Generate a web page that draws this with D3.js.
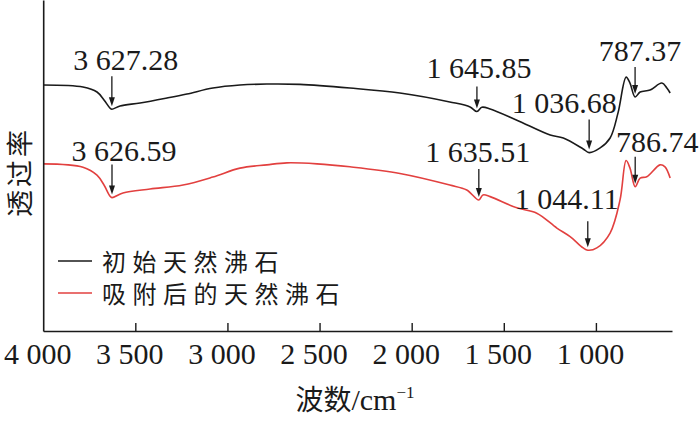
<!DOCTYPE html>
<meta charset="utf-8">
<style>
  body, html { margin: 0; padding: 0; background: #fff; }
  svg { display: block; }
  .num { font-family: "Liberation Serif", "Times New Roman", serif; }
  .cjk { font-family: "Noto Sans CJK SC", sans-serif; }
</style>
<body>
<svg width="700" height="422"></svg>
<script src="https://d3js.org/d3.v7.min.js"></script>
<script>
// wavenumber (cm-1) and transmittance (arbitrary units)
var wnRaw = [4000, 3784, 3708, 3670, 3637, 3627.28, 3583, 3474, 3328, 3220, 3079, 2932, 2786, 2607, 2335,
  2064, 1793, 1683, 1645.85, 1619, 1574, 1429, 1248, 1177, 1069, 1036.68, 977, 923, 880, 836, 815, 787.37,
  760, 706, 642, 615, 597];
var tRaw = [74.3, 73.7, 72.2, 69.8, 67.3, 67.0, 68.0, 68.9, 70.4, 71.6, 73.4, 74.3, 74.6, 74.5, 73.4,
  71.9, 69.2, 67.7, 66.3, 67.6, 67.1, 63.7, 59.2, 58.3, 55.0, 53.9, 55.3, 58.3, 65.9, 76.7, 74.9, 70.7,
  72.2, 72.8, 74.9, 73.4, 71.9];

var wnAds = [4000, 3784, 3708, 3670, 3637, 3626.59, 3567, 3420, 3241, 3079, 2932, 2786, 2677, 2514, 2335,
  2064, 1793, 1701, 1635.51, 1613, 1574, 1429, 1321, 1212, 1140, 1069, 1044.11, 995, 923, 869, 836, 815,
  786.74, 760, 724, 652, 625, 597];
var tAds = [50.5, 49.5, 47.1, 44.1, 40.7, 40.3, 41.7, 42.9, 44.1, 46.5, 49.2, 50.2, 50.8, 50.5, 49.6,
  47.6, 44.1, 42.6, 39.6, 41.1, 40.6, 37.2, 35.6, 31.1, 28.5, 25.1, 24.4, 25.1, 29.6, 39.6, 51.5, 49.2,
  43.6, 46.2, 46.6, 50.2, 49.6, 46.2];

var seriesNames = ["初始天然沸石", "吸附后的天然沸石"];
var seriesColors = ["#1a1a1a", "#e2403f"];

var peaksRaw = [3627.28, 1645.85, 1036.68, 787.37];
var peaksAds = [3626.59, 1635.51, 1044.11, 786.74];

var xTicks = [4000, 3500, 3000, 2500, 2000, 1500, 1000];

// annotation layout: arrow length, label x offset, gap between label and arrow
var rawLayout = [[30, 14, 6], [22, 2, 9], [30, -25, 7], [27, 5, 6]];
var adsLayout = [[30, 12, 4], [28, -1, 7], [26, -21, 12], [27, 22, 5]];

var svg = d3.select("svg");

var x = d3.scaleLinear().domain([4000, 587]).range([43.2, 672]);
var y = d3.scaleLinear().domain([0, 100]).range([331, 0]);

var fmt = function(v) {
  var s = String(v);
  var parts = s.split(".");
  var intp = parts[0];
  if (intp.length > 3) intp = intp.slice(0, intp.length - 3) + " " + intp.slice(intp.length - 3);
  return parts.length > 1 ? intp + "." + parts[1] : intp;
};

var line = d3.line()
  .x(function(d) { return x(d[0]); })
  .y(function(d) { return y(d[1]); })
  .curve(d3.curveCatmullRom.alpha(0.5));

var rawData = d3.zip(wnRaw, tRaw);
var adsData = d3.zip(wnAds, tAds);

svg.append("path").datum(rawData)
  .attr("d", line).attr("fill", "none")
  .attr("stroke", seriesColors[0]).attr("stroke-width", 1.6);
svg.append("path").datum(adsData)
  .attr("d", line).attr("fill", "none")
  .attr("stroke", seriesColors[1]).attr("stroke-width", 1.6);

// axes
var xAxis = svg.append("g")
  .attr("transform", "translate(0,331)")
  .call(d3.axisBottom(x).tickValues(xTicks).tickSizeInner(-8).tickSizeOuter(0).tickFormat(fmt));
xAxis.select(".domain").attr("stroke", "#1a1a1a").attr("stroke-width", 1.6);
xAxis.selectAll(".tick line").attr("stroke", "#1a1a1a").attr("stroke-width", 1.4);
xAxis.selectAll(".tick").filter(function(d) { return d === 4000; }).select("line").remove();
xAxis.selectAll(".tick text")
  .attr("class", "num")
  .attr("y", 12).attr("dx", -6)
  .attr("fill", "#1a1a1a")
  .style("font-size", "30px");

var yAxis = svg.append("g")
  .attr("transform", "translate(43.2,0)")
  .call(d3.axisLeft(y).ticks(0).tickSizeOuter(0));
yAxis.select(".domain").attr("stroke", "#1a1a1a").attr("stroke-width", 1.6);

// axis titles
var xt = svg.append("text").attr("x", 355).attr("y", 410).attr("text-anchor", "middle")
  .attr("fill", "#1a1a1a");
xt.append("tspan").attr("class", "cjk").style("font-size", "28px").text("波数");
xt.append("tspan").attr("class", "num").style("font-size", "30px").text("/cm");
xt.append("tspan").attr("class", "num").style("font-size", "17px").attr("dy", -12).text("−1");

svg.append("text")
  .attr("class", "cjk")
  .attr("transform", "translate(18,172) rotate(-90)")
  .attr("text-anchor", "middle").attr("dominant-baseline", "central")
  .attr("fill", "#1a1a1a")
  .style("font-size", "27px").style("letter-spacing", "3px")
  .text("透过率");

// peak annotations
function annotate(peaks, data, layout) {
  peaks.forEach(function(p, i) {
    var pt = data.find(function(d) { return d[0] === p; });
    var px = x(p), tip = y(pt[1]) - 3;
    var top = tip - layout[i][0];
    svg.append("line")
      .attr("x1", px).attr("x2", px).attr("y1", top).attr("y2", tip - 6)
      .attr("stroke", "#1a1a1a").attr("stroke-width", 1.3);
    svg.append("path")
      .attr("d", "M" + (px - 3) + "," + (tip - 9) + "L" + (px + 3) + "," + (tip - 9) + "L" + px + "," + tip + "Z")
      .attr("fill", "#1a1a1a");
    svg.append("text")
      .attr("class", "num")
      .attr("x", px + layout[i][1]).attr("y", top - layout[i][2])
      .attr("text-anchor", "middle").attr("fill", "#1a1a1a")
      .style("font-size", "30px")
      .text(fmt(p));
  });
}
annotate(peaksRaw, rawData, rawLayout);
annotate(peaksAds, adsData, adsLayout);

// legend
var legend = svg.selectAll(".legend").data(seriesNames).enter().append("g")
  .attr("class", "legend")
  .attr("transform", function(d, i) { return "translate(58," + (260 + i * 32) + ")"; });
legend.append("line")
  .attr("x1", 0).attr("x2", 34).attr("y1", 1).attr("y2", 1)
  .attr("stroke", function(d, i) { return seriesColors[i]; }).attr("stroke-width", 1.6);
legend.append("text")
  .attr("class", "cjk")
  .attr("x", 44).attr("y", 0).attr("dominant-baseline", "central")
  .attr("fill", "#1a1a1a")
  .style("font-size", "24px").style("letter-spacing", "6.5px")
  .text(function(d) { return d; });
</script>
</body>
